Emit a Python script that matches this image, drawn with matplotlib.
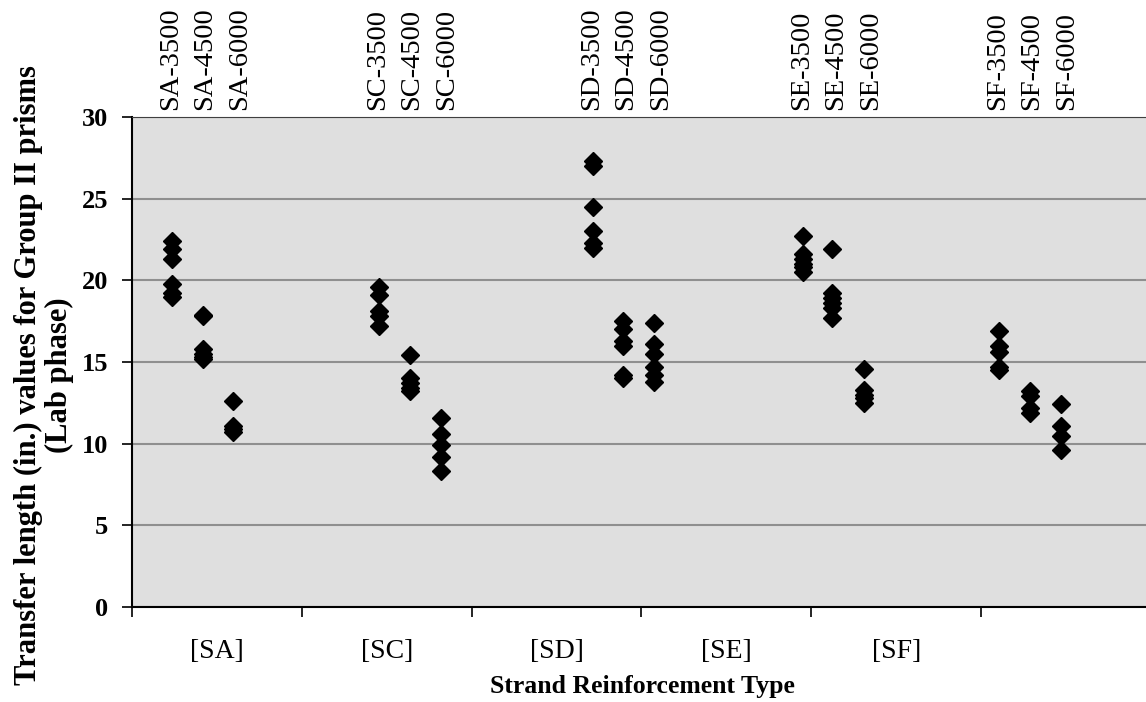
"""Transfer length scatter for Group II prisms (lab phase) by strand type."""
import matplotlib.pyplot as plt

groups = ['SA', 'SC', 'SD', 'SE', 'SF']
strengths = ['3500', '4500', '6000']
# x location of each specimen column on the category axis (1 = [SA], 2 = [SC], ...)
col_x = [[0.736, 0.918, 1.095], [1.955, 2.137, 2.320], [3.215, 3.392, 3.574],
         [4.452, 4.623, 4.811], [5.606, 5.788, 5.971]]

sa_vals = [[22.4, 21.9, 21.3, 19.8, 19.2, 19.0], [17.9, 17.8, 15.8, 15.5, 15.3, 15.2], [12.6, 11.1, 10.9, 10.7]]
sc_vals = [[19.6, 19.1, 18.1, 17.8, 17.2], [15.4, 14.0, 13.7, 13.4, 13.2], [11.6, 10.6, 9.9, 9.2, 8.3]]
sd_vals = [[27.3, 27.0, 24.5, 23.0, 22.3, 22.0], [17.5, 17.0, 16.3, 16.0, 14.2, 14.0], [17.4, 16.1, 15.5, 14.7, 14.2, 13.8]]
se_vals = [[22.7, 21.6, 21.3, 21.0, 20.8, 20.5], [21.9, 19.2, 18.9, 18.6, 18.3, 17.7], [14.6, 13.3, 13.0, 12.8, 12.5]]
sf_vals = [[16.9, 16.0, 15.6, 14.7, 14.5], [13.2, 12.9, 12.2, 11.9], [12.4, 11.1, 10.5, 9.6]]
all_vals = [sa_vals, sc_vals, sd_vals, se_vals, sf_vals]

plt.rcParams['font.family'] = ['Liberation Serif', 'DejaVu Serif']
fig = plt.figure(figsize=(11.46, 7.02), dpi=100)
ax = fig.add_axes([132/1146, 95/702, 1019/1146, 490/702])
ax.set_facecolor('#dfdfdf')

for g, vals in enumerate(all_vals):
    for k, ys in enumerate(vals):
        ax.plot([col_x[g][k]]*len(ys), ys, linestyle='none', marker='D', ms=9, color='black', zorder=3)
        # specimen label above the plot area
        ax.text(col_x[g][0] - 0.01 + k*0.203, 30.45, f'{groups[g]}-{strengths[k]}', rotation=90,
                ha='center', va='bottom', fontsize=20.5, clip_on=False)

ax.set_xlim(0.5, 6.5); ax.set_ylim(0, 30)
ax.set_yticks(range(0, 31, 5))
ax.set_yticklabels([str(v) for v in range(0, 31, 5)], fontsize=19, fontweight='bold')
ax.yaxis.grid(True, color='#8f8f8f', linewidth=1.5); ax.set_axisbelow(True)
ax.set_xticks([i + 0.5 for i in range(7)]); ax.set_xticklabels([])
ax.set_xticks(range(1, 6), minor=True); ax.set_xticklabels([f'[{g}]' for g in groups], minor=True, fontsize=20)
ax.tick_params(axis='x', which='major', direction='out', length=7, width=1.2)
ax.tick_params(axis='x', which='minor', length=0, pad=23)
ax.tick_params(axis='y', direction='out', length=7, width=1.2, pad=10)
for s in ['left', 'bottom']: ax.spines[s].set_linewidth(1.5)
ax.spines['top'].set_color('#404040'); ax.spines['right'].set_visible(False)

fig.text(642/1146, 1 - 686/702, 'Strand Reinforcement Type', ha='center', va='center', fontsize=18.5, fontweight='bold')
fig.text(44/1146, 1 - 375/702, 'Transfer length (in.) values for Group II prisms\n(Lab phase)', rotation=90,
         ha='center', va='center', multialignment='center', fontsize=22, fontweight='bold', linespacing=1.1)
fig.savefig('out.png', dpi=100)
